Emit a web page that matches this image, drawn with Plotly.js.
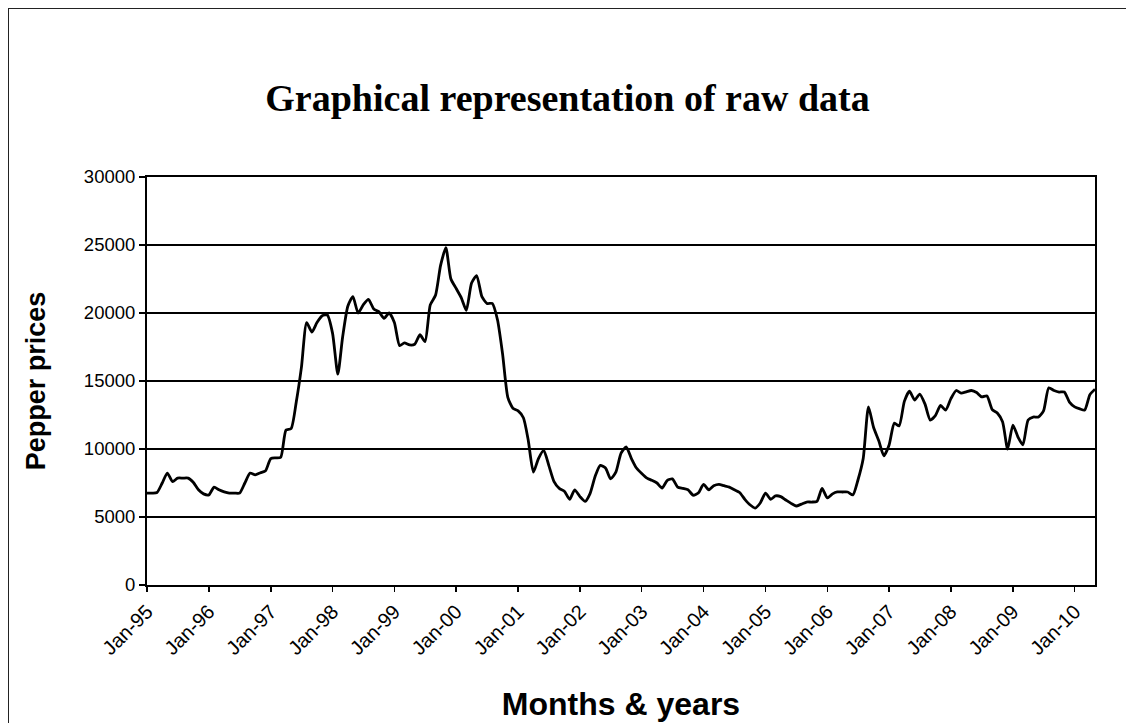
<!DOCTYPE html>
<html>
<head>
<meta charset="utf-8">
<script src="https://cdn.plot.ly/plotly-3.0.1.min.js"></script>
<style>
  html, body { margin: 0; padding: 0; background: #fff; }
  #chart { position: absolute; left: 0; top: 0; width: 1126px; height: 723px; }
  #frame { position: absolute; left: 8px; top: 8px; width: 1126px; height: 723px;
           border-left: 1.5px solid #222; border-top: 1.5px solid #222; pointer-events: none; }
</style>
</head>
<body>
<div id="chart"></div>
<div id="frame"></div>
<script>
// Monthly pepper prices, one array per year (Jan..Dec)
const startYear = 1995;
const prices1995 = [6760, 6760, 6800, 7500, 8230, 7600, 7860, 7860, 7860, 7550, 7000, 6700];
const prices1996 = [6620, 7200, 7000, 6850, 6760, 6760, 6760, 7500, 8230, 8100, 8250, 8400];
const prices1997 = [9300, 9350, 9400, 11400, 11500, 13500, 16000, 19300, 18600, 19300, 19800, 19850];
const prices1998 = [18500, 15500, 18200, 20500, 21200, 20000, 20600, 21000, 20300, 20100, 19600, 20000];
const prices1999 = [19300, 17600, 17800, 17650, 17700, 18400, 17900, 20600, 21300, 23500, 24800, 22500];
const prices2000 = [21800, 21100, 20200, 22200, 22750, 21200, 20700, 20700, 19500, 17000, 13800, 13000];
const prices2001 = [12800, 12300, 10700, 8300, 9300, 9900, 8800, 7600, 7100, 6900, 6300, 7000];
const prices2002 = [6500, 6150, 6700, 8000, 8800, 8600, 7800, 8300, 9700, 10150, 9300, 8600];
const prices2003 = [8200, 7860, 7700, 7500, 7130, 7700, 7800, 7200, 7100, 7000, 6600, 6760];
const prices2004 = [7400, 7000, 7300, 7400, 7300, 7200, 7000, 6800, 6300, 5900, 5660, 6030];
const prices2005 = [6760, 6300, 6550, 6500, 6250, 6000, 5810, 5950, 6100, 6100, 6150, 7100];
const prices2006 = [6400, 6700, 6840, 6840, 6840, 6620, 7720, 9300, 13100, 11600, 10600, 9500];
const prices2007 = [10300, 11900, 11700, 13500, 14250, 13600, 14040, 13300, 12130, 12450, 13200, 12860];
const prices2008 = [13700, 14300, 14110, 14200, 14300, 14150, 13830, 13900, 12900, 12650, 12000, 10000];
const prices2009 = [11760, 10850, 10300, 12130, 12350, 12350, 12800, 14500, 14300, 14190, 14190, 13450];
const prices2010 = [13100, 12950, 12860, 14000, 14400];

const yearly = [prices1995, prices1996, prices1997, prices1998, prices1999, prices2000,
  prices2001, prices2002, prices2003, prices2004, prices2005, prices2006, prices2007,
  prices2008, prices2009, prices2010];

const dates = [];
const values = [];
yearly.forEach((arr, yi) => {
  arr.forEach((v, mi) => {
    const mm = String(mi + 1).padStart(2, '0');
    dates.push((startYear + yi) + '-' + mm + '-01');
    values.push(v);
  });
});

const yTicks = [0, 5000, 10000, 15000, 20000, 25000, 30000];

const trace = {
  x: dates, y: values, type: 'scatter', mode: 'lines',
  line: { color: '#000', width: 2.8, shape: 'spline', smoothing: 0.6 },
  hoverinfo: 'x+y'
};

const layout = {
  width: 1126, height: 723,
  margin: { l: 147, r: 31, t: 177, b: 138 },
  paper_bgcolor: 'rgba(0,0,0,0)', plot_bgcolor: '#fff',
  showlegend: false,
  font: { family: 'Liberation Sans, Arial, sans-serif', color: '#000' },
  title: {
    text: '<b>Graphical representation of raw data</b>',
    font: { family: 'Liberation Serif, Times New Roman, serif', size: 38, color: '#000' },
    x: 0.504, xref: 'container', xanchor: 'center', y: 0.865, yref: 'container', yanchor: 'middle'
  },
  xaxis: {
    type: 'date',
    range: ['1995-01-01', '2010-05-01'],
    tick0: '1995-01-01', dtick: 'M12', tickformat: '%b-%y',
    tickangle: -45,
    tickfont: { size: 20, family: 'Liberation Sans, Arial, sans-serif', color: '#000' },
    ticks: 'outside', ticklen: 5, tickwidth: 1.5, tickcolor: '#000',
    showline: true, linecolor: '#000', linewidth: 2, mirror: true,
    showgrid: false, zeroline: false,
    title: { text: '<b>Months & years</b>', font: { size: 32, color: '#000' }, standoff: 34 }
  },
  yaxis: {
    range: [0, 30000],
    tickvals: yTicks, ticktext: yTicks.map(String),
    tickfont: { size: 18.5, family: 'Liberation Sans, Arial, sans-serif', color: '#000' },
    ticks: 'outside', ticklen: 6, tickwidth: 1.5, tickcolor: '#000',
    showline: true, linecolor: '#000', linewidth: 2, mirror: true,
    showgrid: true, gridcolor: '#000', gridwidth: 1.5, zeroline: false,
    title: { text: '<b>Pepper prices</b>', font: { size: 27, color: '#000' }, standoff: 30 }
  }
};

Plotly.newPlot('chart', [trace], layout, { displayModeBar: false, staticPlot: true });
</script>
</body>
</html>
